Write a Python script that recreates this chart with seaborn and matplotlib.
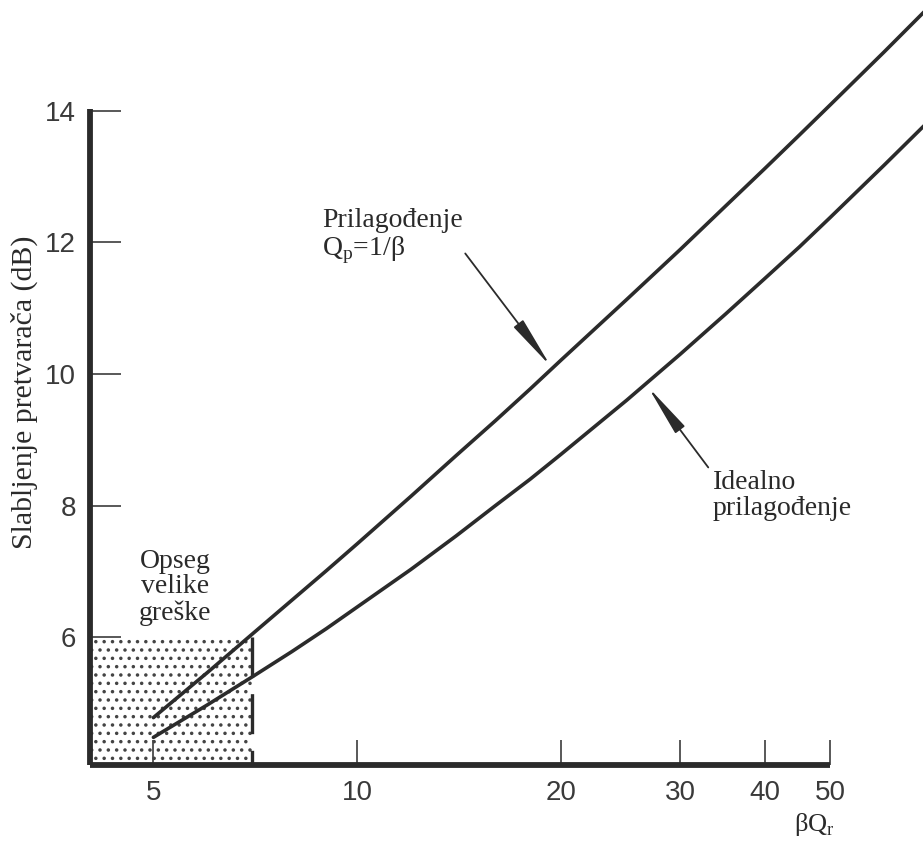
import numpy as np
import pandas as pd
import matplotlib
matplotlib.use("Agg")
import matplotlib.pyplot as plt
import seaborn as sns

# ---- data ----
bq = [5, 6, 7, 8, 9, 10, 12, 14, 16, 18, 20, 25, 30, 35, 40, 45, 50, 60, 70]
att_matched = [4.78, 5.46, 6.05, 6.56, 7.01, 7.42, 8.14, 8.76, 9.29, 9.77,
               10.21, 11.13, 11.89, 12.55, 13.12, 13.63, 14.09, 14.89, 15.58]
att_ideal = [4.48, 4.97, 5.40, 5.78, 6.13, 6.46, 7.03, 7.54, 8.00, 8.40,
             8.78, 9.60, 10.30, 10.91, 11.45, 11.93, 12.38, 13.17, 13.85]
x_ticks = [5, 10, 20, 30, 40, 50]
x_tick_labels = ["5", "10", "20", "30", "40", "50"]
y_ticks = [6, 8, 10, 12, 14]
y_tick_labels = ["6", "8", "10", "12", "14"]
err_x = [4.03, 7.0]      # high-error region in βQr
err_top = 6.0            # top of high-error region (dB)

INK = "#2b2b2b"

sns.set_theme(style="white")
plt.rcParams["font.family"] = ["Liberation Serif", "DejaVu Serif"]
plt.rcParams["mathtext.fontset"] = "custom"
plt.rcParams["mathtext.rm"] = "Liberation Serif"
plt.rcParams["hatch.linewidth"] = 1.3
plt.rcParams["hatch.color"] = "#444444"

fig = plt.figure(figsize=(9.23, 8.41), dpi=100)
ax = fig.add_axes([90 / 923, 76 / 841, 833 / 923, 765 / 841])

xmin, xmax = 4.03, 68.5
ymin, ymax = 4.06, 15.68

df = pd.concat([
    pd.DataFrame({"bq": bq, "att": att_matched, "curve": "Prilagođenje"}),
    pd.DataFrame({"bq": bq, "att": att_ideal, "curve": "Idealno"}),
])

# stippled high-error region
ax.fill_between(err_x, ymin, err_top, facecolor="none", edgecolor="#444444",
                hatch="..", linewidth=0, zorder=1)
# dashed boundary
ax.plot([err_x[1], err_x[1]], [err_top, ymin], color=INK, lw=2.4,
        linestyle=(0, (12, 5)), solid_capstyle="butt", zorder=2)

sns.lineplot(data=df, x="bq", y="att", hue="curve", palette=[INK, INK],
             linewidth=2.6, legend=False, ax=ax, sort=True, zorder=3)
for ln in ax.get_lines():
    ln.set_clip_on(False)

ax.set_xscale("log")
ax.set_xlim(xmin, xmax)
ax.set_ylim(ymin, ymax)

ax.set_xticks(x_ticks)
ax.set_xticklabels(x_tick_labels)
ax.xaxis.set_minor_locator(matplotlib.ticker.NullLocator())
ax.set_yticks(y_ticks)
ax.set_yticklabels(y_tick_labels)

for s in ["top", "right"]:
    ax.spines[s].set_visible(False)
ax.spines["left"].set_bounds(ymin, 14.03)
ax.spines["bottom"].set_bounds(xmin, 50)
for s in ["left", "bottom"]:
    ax.spines[s].set_color(INK)
    ax.spines[s].set_linewidth(4.2)
    ax.spines[s].set_capstyle("butt")

ax.tick_params(axis="y", direction="in", length=22, width=1.1, color=INK,
               pad=10, left=True)
ax.tick_params(axis="x", direction="in", length=18, width=1.1, color=INK,
               pad=11, bottom=True)
for lab in ax.get_xticklabels() + ax.get_yticklabels():
    lab.set_fontfamily("Liberation Sans")
    lab.set_fontsize(20)
    lab.set_color("#3a3a3a")

ax.set_xlabel(r"βQ$_{\mathregular{r}}$", fontsize=19, color="#2a2a2a")
ax.xaxis.set_label_coords(0.870, -0.060)
ax.set_ylabel("Slabljenje pretvarača (dB)", fontsize=21.5, color="#2a2a2a")
ax.yaxis.set_label_coords(-0.0624, 0.4876)

txt_kw = dict(fontsize=20, color="#2a2a2a", transform=ax.transAxes,
              linespacing=1.05)
ax.text(0.2785, 0.728, "Prilagođenje\n" + r"Q$_{\mathregular{p}}$=1/β",
        ha="left", va="top", **txt_kw)
ax.text(0.748, 0.386, "Idealno\nprilagođenje", ha="left", va="top", **txt_kw)
ax.text(0.102, 0.283, "Opseg\nvelike\ngreške", ha="center", va="top",
        **txt_kw)

arrow_kw = dict(arrowstyle="-|>,head_length=3.2,head_width=0.36",
                color=INK, lw=1.3, mutation_scale=10, shrinkA=0, shrinkB=0)
ax.annotate("", xy=(19.3, 10.12), xytext=(14.44, 11.83),
            arrowprops=arrow_kw)
ax.annotate("", xy=(26.9, 9.80), xytext=(33.0, 8.58),
            arrowprops=arrow_kw)

fig.savefig("out.png", dpi=100, facecolor="white")
